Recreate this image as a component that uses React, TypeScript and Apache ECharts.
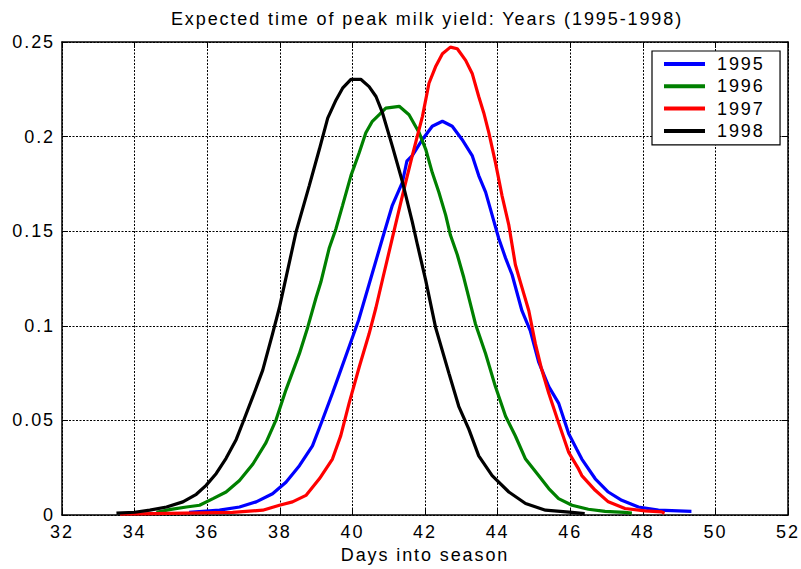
import React, { useEffect, useRef } from "react";
import * as echarts from "echarts";

const titleText = "Expected time of peak milk yield: Years (1995-1998)";
const xAxisName = "Days into season";
const seriesNames = ["1995", "1996", "1997", "1998"];
const seriesColors = ["#0000ff", "#008000", "#ff0000", "#000000"];
const yTickLabels = ["0", "0.05", "0.1", "0.15", "0.2", "0.25"];

const days1995 = [35.5, 36.34, 36.89, 37.35, 37.8, 38.17, 38.54, 38.9, 39.18, 39.45, 39.64, 39.91, 40.17, 40.46, 40.83, 41.1, 41.38, 41.5, 41.65, 41.93, 42.2, 42.48, 42.75, 43.02, 43.3, 43.48, 43.67, 43.85, 44.03, 44.22, 44.4, 44.67, 44.9, 45.13, 45.41, 45.68, 45.96, 46.18, 46.32, 46.69, 47.05, 47.42, 47.88, 48.43, 49.34];
const vals1995 = [0.0015, 0.0026, 0.0043, 0.007, 0.0113, 0.0174, 0.0261, 0.0366, 0.0505, 0.0644, 0.0745, 0.089, 0.103, 0.122, 0.1463, 0.1637, 0.176, 0.187, 0.19, 0.1985, 0.2055, 0.2081, 0.2055, 0.1985, 0.19, 0.1794, 0.1707, 0.1585, 0.1463, 0.1358, 0.127, 0.108, 0.0975, 0.081, 0.0679, 0.0592, 0.043, 0.0348, 0.0296, 0.0192, 0.0122, 0.0078, 0.0043, 0.0026, 0.002];

const days1996 = [34.6, 35.0, 35.43, 35.79, 36.16, 36.52, 36.89, 37.26, 37.62, 37.9, 38.17, 38.54, 38.77, 39.0, 39.13, 39.36, 39.55, 39.73, 39.96, 40.19, 40.37, 40.55, 40.74, 40.92, 41.29, 41.56, 41.84, 42.02, 42.2, 42.38, 42.57, 42.7, 42.89, 43.07, 43.39, 43.67, 43.94, 44.22, 44.49, 44.77, 45.13, 45.41, 45.68, 46.05, 46.5, 46.96, 47.5, 47.7];
const vals1996 = [0.0015, 0.003, 0.0043, 0.0052, 0.0087, 0.0122, 0.0183, 0.027, 0.0383, 0.0505, 0.0662, 0.0853, 0.0993, 0.115, 0.123, 0.141, 0.1515, 0.1637, 0.1794, 0.1916, 0.202, 0.2081, 0.2116, 0.2151, 0.216, 0.2116, 0.202, 0.1933, 0.181, 0.1707, 0.1585, 0.148, 0.1376, 0.1254, 0.101, 0.0853, 0.0679, 0.0522, 0.0418, 0.0296, 0.0209, 0.014, 0.0087, 0.0052, 0.0031, 0.002, 0.0014, 0.001];

const days1997 = [33.6, 36.7, 37.53, 37.99, 38.35, 38.72, 39.09, 39.45, 39.68, 39.91, 40.19, 40.46, 40.65, 40.83, 41.1, 41.38, 41.65, 41.93, 42.11, 42.29, 42.48, 42.7, 42.89, 43.12, 43.3, 43.48, 43.62, 43.76, 43.94, 44.12, 44.31, 44.49, 44.63, 44.86, 45.04, 45.2, 45.41, 45.68, 45.96, 46.23, 46.32, 46.69, 47.05, 47.51, 48.06, 48.52, 48.6];
const vals1997 = [0.0005, 0.0014, 0.0026, 0.0052, 0.007, 0.0104, 0.0192, 0.0296, 0.042, 0.0592, 0.0784, 0.0958, 0.1097, 0.1245, 0.1463, 0.169, 0.19, 0.2107, 0.2282, 0.2369, 0.2438, 0.2473, 0.2464, 0.2403, 0.2334, 0.2212, 0.2125, 0.202, 0.1864, 0.169, 0.1532, 0.1323, 0.123, 0.108, 0.0906, 0.078, 0.0644, 0.0488, 0.0331, 0.0244, 0.0209, 0.0131, 0.007, 0.0035, 0.0022, 0.0017, 0.001];

const days1998 = [33.5, 34.0, 34.42, 34.88, 35.33, 35.7, 35.97, 36.25, 36.52, 36.8, 36.98, 37.26, 37.53, 37.8, 37.99, 38.13, 38.45, 38.81, 39.09, 39.32, 39.55, 39.73, 39.96, 40.23, 40.46, 40.65, 40.83, 41.1, 41.38, 41.65, 41.79, 42.02, 42.29, 42.66, 42.93, 43.21, 43.48, 43.85, 44.31, 44.77, 45.32, 46.05, 46.4];
const vals1998 = [0.001, 0.0015, 0.0026, 0.0043, 0.007, 0.011, 0.0157, 0.022, 0.03, 0.04, 0.0488, 0.0627, 0.0766, 0.0958, 0.1097, 0.1219, 0.1498, 0.174, 0.1933, 0.2098, 0.2194, 0.2256, 0.2303, 0.2303, 0.2264, 0.2212, 0.2125, 0.195, 0.176, 0.155, 0.143, 0.124, 0.0993, 0.0749, 0.0575, 0.0453, 0.0313, 0.0209, 0.0122, 0.0061, 0.0026, 0.0014, 0.0008];

const allDays = [days1995, days1996, days1997, days1998];
const allVals = [vals1995, vals1996, vals1997, vals1998];

const FONT = "'Liberation Sans', Arial, Helvetica, sans-serif";

export default function App() {
  const ref = useRef<HTMLDivElement>(null);
  useEffect(() => {
    if (!ref.current) return;
    const chart = echarts.init(ref.current, null, { renderer: "svg" });
    const gridLine = { show: true, lineStyle: { color: "#000", width: 1, type: [2, 1.5] as any } };
    const axisLine = { show: true, onZero: false, lineStyle: { color: "#000", width: 1.5 } };
    const tick = { show: true, inside: true, length: 6, lineStyle: { color: "#000", width: 1 } };
    chart.setOption({
      animation: false,
      backgroundColor: "#fff",
      textStyle: { fontFamily: FONT },
      title: {
        text: titleText,
        left: 422,
        top: 5,
        textAlign: "center",
        textStyle: { fontFamily: FONT, fontSize: 18, fontWeight: "normal", color: "#000" },
      },
      legend: {
        data: seriesNames,
        orient: "vertical",
        left: 652,
        top: 51,
        padding: [4, 23, 5, 12],
        itemGap: 4.3,
        itemWidth: 41,
        itemHeight: 4,
        icon: "rect",
        backgroundColor: "#fff",
        borderColor: "#000",
        borderWidth: 1.2,
        borderRadius: 0,
        textStyle: { fontFamily: FONT, fontSize: 18, lineHeight: 18, color: "#000", padding: [0, 0, 0, 7] },
      },
      grid: { left: 62, right: 11, top: 42, bottom: 49, containLabel: false },
      xAxis: [
        {
          type: "value",
          min: 32,
          max: 52,
          interval: 2,
          name: xAxisName,
          nameLocation: "middle",
          nameGap: 26,
          nameTextStyle: { fontFamily: FONT, fontSize: 18, color: "#000", verticalAlign: "top" },
          axisLine,
          axisTick: tick,
          axisLabel: { fontFamily: FONT, fontSize: 18, color: "#000", margin: 8 },
          splitLine: gridLine,
        },
        {
          type: "value",
          position: "top",
          min: 32,
          max: 52,
          interval: 2,
          axisLine,
          axisTick: tick,
          axisLabel: { show: false },
          splitLine: { show: false },
        },
      ],
      yAxis: [
        {
          type: "value",
          min: 0,
          max: 0.25,
          interval: 0.05,
          axisLine,
          axisTick: tick,
          axisLabel: {
            fontFamily: FONT,
            fontSize: 18,
            color: "#000",
            margin: 7,
            formatter: (v: number) => yTickLabels[Math.round(v / 0.05)] ?? String(v),
          },
          splitLine: gridLine,
        },
        {
          type: "value",
          position: "right",
          min: 0,
          max: 0.25,
          interval: 0.05,
          axisLine,
          axisTick: tick,
          axisLabel: { show: false },
          splitLine: { show: false },
        },
      ],
      series: seriesNames.map((name, i) => ({
        name,
        type: "line",
        xAxisIndex: 0,
        yAxisIndex: 0,
        data: allDays[i].map((d, j) => [d, allVals[i][j]]),
        showSymbol: false,
        symbol: "none",
        color: seriesColors[i],
        lineStyle: { color: seriesColors[i], width: 3.2 },
        itemStyle: { color: seriesColors[i] },
        emphasis: { disabled: true },
      })),
    });
    return () => chart.dispose();
  }, []);
  return (
    <>
      <style>{`#milkchart text { letter-spacing: 1.9px; }`}</style>
      <div
        id="milkchart"
        ref={ref}
        style={{ position: "fixed", left: 0, top: 0, width: 801, height: 569, background: "#fff" }}
      />
    </>
  );
}
